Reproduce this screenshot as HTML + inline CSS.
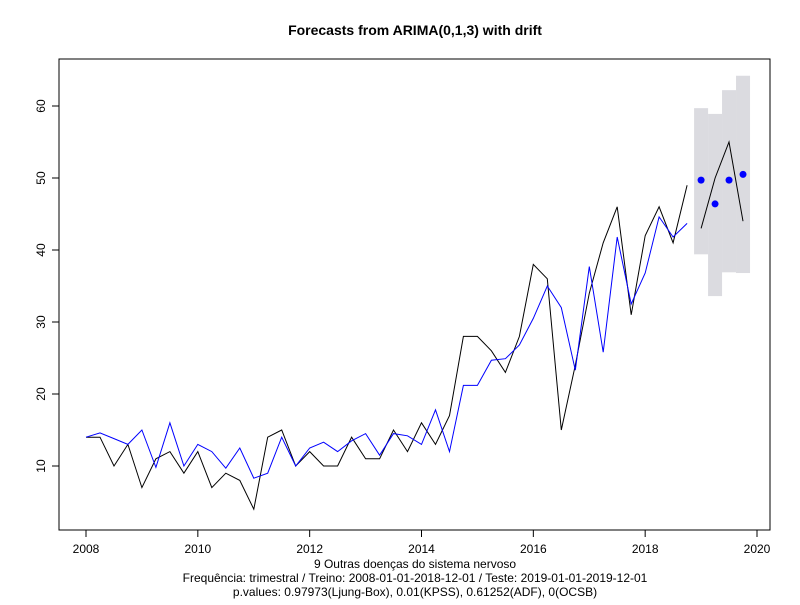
<!DOCTYPE html>
<html><head><meta charset="utf-8"><style>
body{margin:0;background:#fff;}
svg text{font-family:"Liberation Sans",sans-serif;}
</style></head><body>
<svg id="chart" width="800" height="600" xmlns="http://www.w3.org/2000/svg">
<rect width="800" height="600" fill="#fff"/>
<text x="415" y="35" text-anchor="middle" font-size="14" font-weight="bold">Forecasts from ARIMA(0,1,3) with drift</text>
<g id="bands"></g>
<g id="lines"></g>
<rect x="59" y="59" width="711" height="471" fill="none" stroke="#000" stroke-width="1"/>
<g id="axes"></g>
<text x="415" y="568" text-anchor="middle" font-size="12">9 Outras doenças do sistema nervoso</text>
<text x="415" y="582" text-anchor="middle" font-size="12">Frequência: trimestral / Treino: 2008-01-01-2018-12-01 / Teste: 2019-01-01-2019-12-01</text>
<text x="415" y="596" text-anchor="middle" font-size="12">p.values: 0.97973(Ljung-Box), 0.01(KPSS), 0.61252(ADF), 0(OCSB)</text>
</svg>
<script>
const startYear = 2008;
const observed = [14,14,10,13, 7,11,12,9, 12,7,9,8, 4,14,15,10, 12,10,10,14, 11,11,15,12, 16,13,17,28, 28,26,23,28, 38,36,15,24, 34,41,46,31, 42,46,41,49];
const fitted = [14,14.6,13.8,13, 15,9.8,16,10, 13,12,9.7,12.5, 8.3,9,14,10, 12.5,13.3,12,13.5, 14.5,11.5,14.5,14.2, 13,17.8,12,21.2, 21.2,24.7,24.9,26.8, 30.5,35,32,23.3, 37.7,25.8,41.8,32.5, 36.8,44.6,41.8,43.7];
const testActual = [43,50,55,44];
const forecastMean = [49.7,46.4,49.7,50.5];
const forecastLower = [39.4,33.6,36.9,36.8];
const forecastUpper = [59.7,58.9,62.2,64.2];
const xTicks = [2008,2010,2012,2014,2016,2018,2020];
const yTicks = [10,20,30,40,50,60];

const NS = "http://www.w3.org/2000/svg";
const xs = t => 86 + (t - 2008) * (757 - 86) / 12;
const ys = v => 466 - (v - 10) * 7.2;
const tOf = i => startYear + i / 4;
function mk(tag, attrs, parent){const e=document.createElementNS(NS,tag);for(const k in attrs)e.setAttribute(k,attrs[k]);parent.appendChild(e);return e;}

const bands = document.getElementById('bands');
forecastLower.forEach((lo,i)=>{
  const t = tOf(observed.length + i);
  const r = mk('rect',{x:xs(t)-7,y:ys(forecastUpper[i]),width:14,height:ys(lo)-ys(forecastUpper[i]),fill:'#dbdbe0'},bands);
  
  
});

const lines = document.getElementById('lines');
function path(arr, off, color, name){
  const d = arr.map((v,i)=>(i?'L':'M')+xs(tOf(off+i)).toFixed(1)+' '+ys(v).toFixed(1)).join(' ');
  const p = mk('path',{d:d,fill:'none',stroke:color,'stroke-width':1},lines);
  
  
}
path(observed,0,'#000','observed-line');
path(fitted,0,'#0000ff','fitted-line');
path(testActual,observed.length,'#000','test-actual-line');
forecastMean.forEach((v,i)=>{
  const c = mk('circle',{cx:xs(tOf(observed.length+i)),cy:ys(v),r:3.5,fill:'#0000ff'},lines);
  
  
});

const axes = document.getElementById('axes');
xTicks.forEach(t=>{
  const l = mk('line',{x1:xs(t),x2:xs(t),y1:530,y2:537,stroke:'#000'},axes);
  
  
  const tx = mk('text',{x:xs(t),y:553,'text-anchor':'middle','font-size':12},axes);
  tx.textContent = t;
  
  
});
yTicks.forEach(v=>{
  const l = mk('line',{x1:52,x2:59,y1:ys(v),y2:ys(v),stroke:'#000'},axes);
  
  
  const tx = mk('text',{x:42,y:ys(v),'text-anchor':'middle','font-size':12,transform:`rotate(-90 42 ${ys(v)})`,'dominant-baseline':'middle'},axes);
  tx.textContent = v;
  
  
});
</script>
</body></html>
